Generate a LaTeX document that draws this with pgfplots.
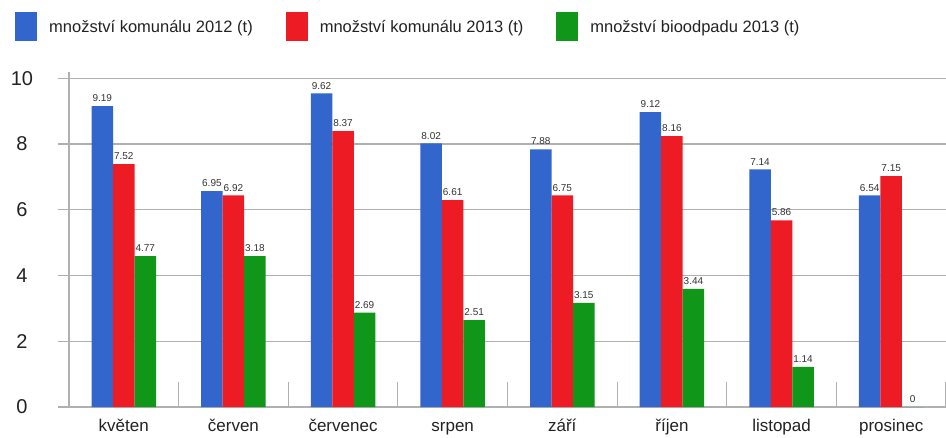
\documentclass[border=0pt]{standalone}
\usepackage{fontspec}
\setmainfont{Liberation Sans}
\usepackage{pgfplots}
\pgfplotsset{compat=1.18}
\definecolor{cblue}{HTML}{3366CC}
\definecolor{cred}{HTML}{ED1C24}
\definecolor{cgreen}{HTML}{109618}
\definecolor{gridc}{HTML}{B0B0B0}
\definecolor{labc}{HTML}{333333}
\definecolor{txtc}{HTML}{222222}
\begin{document}
\begin{tikzpicture}[x=1pt,y=1pt]
\path[use as bounding box] (0,0) rectangle (946,437);
\begin{axis}[
  at={(58pt,30pt)}, anchor=south west,
  scale only axis, width=888pt, height=335.3pt,
  xmin=-0.6, xmax=7.5, ymin=0, ymax=10.2,
  axis line style={draw=none},
  ybar=0pt, bar width=21.5pt,
  xtick={0,...,7},
  xticklabels={květen,červen,červenec,srpen,září,říjen,listopad,prosinec},
  minor xtick={0.5,1.5,...,7.5},
  xtick pos=left,
  major tick length=0pt, minor tick length=25pt, tick align=inside,
  x tick style={gridc, line width=1.2pt},
  ytick style={draw=none},
  ytick={0,2,...,10},
  ymajorgrids, grid style={gridc, line width=1.2pt},
  /pgf/number format/assume math mode=true,
  yticklabel style={anchor=center, xshift=-36pt, font=\fontsize{20}{20}\selectfont, text=txtc},
  xticklabel style={font=\fontsize{17}{17}\selectfont, text=txtc, text height=13pt, text depth=4pt, yshift=-8pt},
  nodes near coords, point meta=explicit symbolic,
  every node near coord/.append style={font=\fontsize{10}{10}\selectfont, text=labc, inner sep=1pt, yshift=3pt},
  legend columns=3,
  legend image code/.code={\fill[#1,draw=none] (0pt,-14.5pt) rectangle (22pt,14.5pt);},
  legend style={at={(0,1)}, anchor=north west, xshift=-43pt, yshift=59.7pt,
    draw=none, fill=none, inner sep=0pt,
    font=\fontsize{16.5}{16.5}\selectfont, text=txtc,
    /tikz/every odd column/.append style={column sep=10pt},
    /tikz/every even column/.append style={column sep=31pt}},
]
\draw[gridc, line width=1.2pt] (axis cs:-0.5,0) -- (axis cs:-0.5,10.2);
\addplot[fill=cblue, draw=none] coordinates {
 (0,9.15)[9.19] (1,6.57)[6.95] (2,9.54)[9.62] (3,8.02)[8.02]
 (4,7.84)[7.88] (5,8.97)[9.12] (6,7.23)[7.14] (7,6.44)[6.54]};
\addlegendentry{množství komunálu 2012 (t)}
\addplot[fill=cred, draw=none] coordinates {
 (0,7.39)[7.52] (1,6.44)[6.92] (2,8.39)[8.37] (3,6.29)[6.61]
 (4,6.44)[6.75] (5,8.24)[8.16] (6,5.68)[5.86] (7,7.02)[7.15]};
\addlegendentry{množství komunálu 2013 (t)}
\addplot[fill=cgreen, draw=none] coordinates {
 (0,4.59)[4.77] (1,4.59)[3.18] (2,2.87)[2.69] (3,2.64)[2.51]
 (4,3.17)[3.15] (5,3.59)[3.44] (6,1.22)[1.14] (7,0)[0]};
\addlegendentry{množství bioodpadu 2013 (t)}
\end{axis}
\end{tikzpicture}
\end{document}
